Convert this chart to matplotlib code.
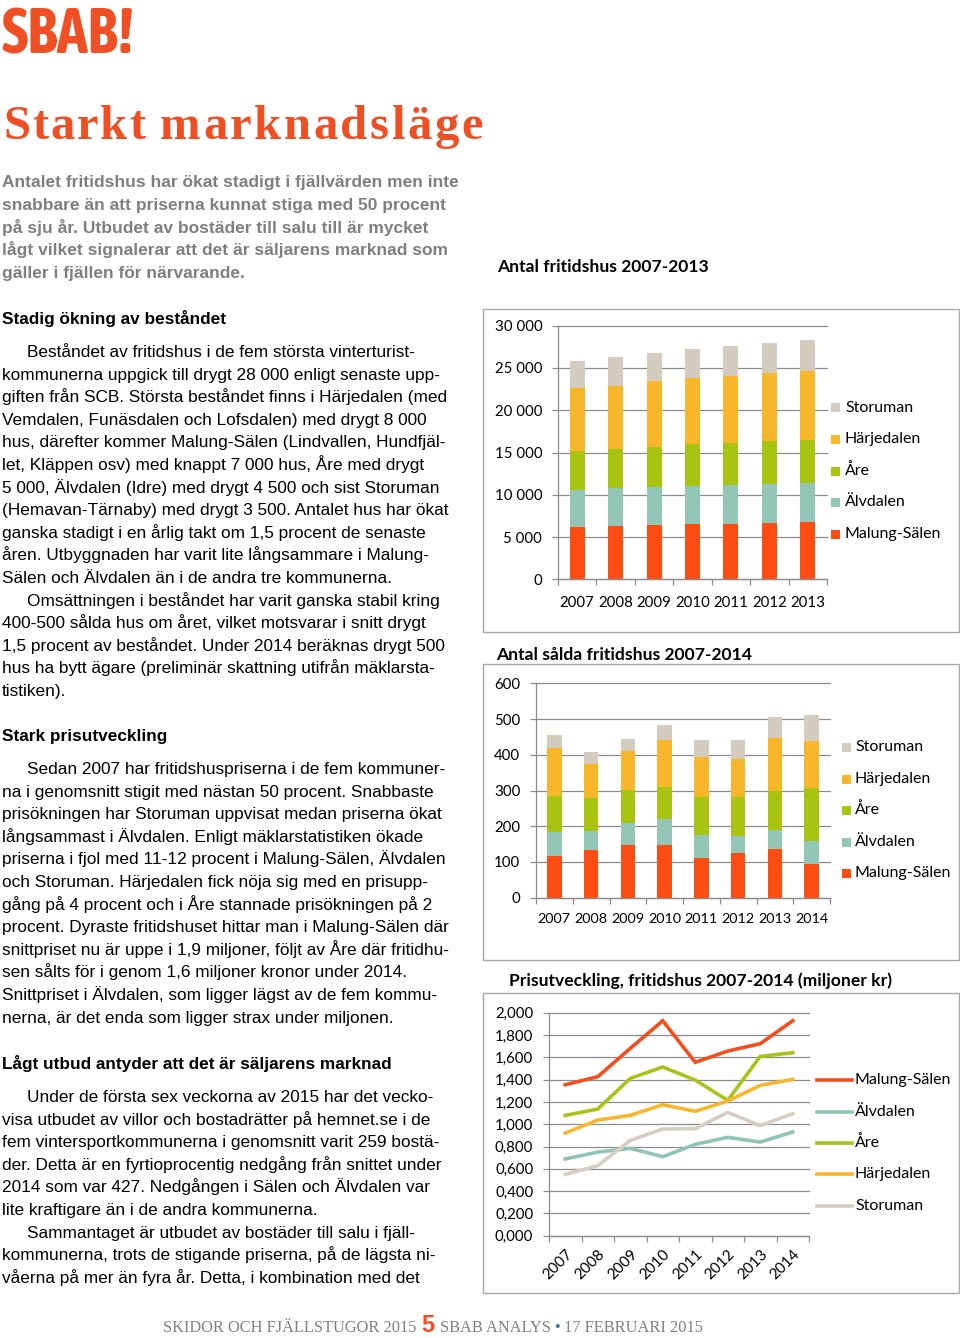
import matplotlib
matplotlib.use('Agg')
import matplotlib.pyplot as plt
from matplotlib.patches import Rectangle
from matplotlib.lines import Line2D
from matplotlib import font_manager
from matplotlib.ft2font import FT2Font
import numpy as np

# ---------------- data ----------------
series_names = ['Malung-Sälen', 'Älvdalen', 'Åre', 'Härjedalen', 'Storuman']

stock_years = ['2007', '2008', '2009', '2010', '2011', '2012', '2013']
stock_malung = [6230, 6350, 6460, 6540, 6580, 6620, 6740]
stock_alvdalen = [4300, 4410, 4500, 4500, 4570, 4610, 4610]
stock_are = [4650, 4650, 4730, 4930, 5010, 5090, 5170]
stock_harjedalen = [7410, 7490, 7770, 7850, 7880, 8040, 8160]
stock_storuman = [3190, 3350, 3350, 3470, 3510, 3590, 3630]

sales_years = ['2007', '2008', '2009', '2010', '2011', '2012', '2013', '2014']
sales_malung = [118, 133, 147, 147, 111, 124, 135, 95]
sales_alvdalen = [67, 55, 63, 73, 65, 50, 55, 64]
sales_are = [99, 91, 91, 90, 106, 107, 109, 148]
sales_harjedalen = [134, 95, 110, 130, 111, 108, 149, 132]
sales_storuman = [38, 33, 32, 42, 47, 51, 57, 71]

price_years = ['2007', '2008', '2009', '2010', '2011', '2012', '2013', '2014']
price_malung = [1.354, 1.426, 1.680, 1.928, 1.555, 1.656, 1.722, 1.928]
price_alvdalen = [0.688, 0.750, 0.783, 0.709, 0.819, 0.882, 0.840, 0.930]
price_are = [1.079, 1.136, 1.411, 1.513, 1.396, 1.214, 1.608, 1.641]
price_harjedalen = [0.921, 1.037, 1.079, 1.175, 1.115, 1.208, 1.348, 1.402]
price_storuman = [0.550, 0.628, 0.855, 0.957, 0.960, 1.106, 0.987, 1.094]

bar_colors = ['#FE4D12', '#93C6B7', '#A8C310', '#F8B62A', '#D4CCBF']
line_colors = ['#F24E1E', '#8FC4B6', '#A8C31A', '#F8B62E', '#D6CEC2']

intro_lines = [
    "Antalet fritidshus har ökat stadigt i fjällvärden men inte",
    "snabbare än att priserna kunnat stiga med 50 procent",
    "på sju år. Utbudet av bostäder till salu till är mycket",
    "lågt vilket signalerar att det är säljarens marknad som",
    "gäller i fjällen för närvarande.",
]
sec1_head = "Stadig ökning av beståndet"
sec1_lines = [
    (1, "Beståndet av fritidshus i de fem största vinterturist-"),
    (0, "kommunerna uppgick till drygt 28 000 enligt senaste upp-"),
    (0, "giften från SCB. Största beståndet finns i Härjedalen (med"),
    (0, "Vemdalen, Funäsdalen och Lofsdalen) med drygt 8 000"),
    (0, "hus, därefter kommer Malung-Sälen (Lindvallen, Hundfjäl-"),
    (0, "let, Kläppen osv) med knappt 7 000 hus, Åre med drygt"),
    (0, "5 000, Älvdalen (Idre) med drygt 4 500 och sist Storuman"),
    (0, "(Hemavan-Tärnaby) med drygt 3 500. Antalet hus har ökat"),
    (0, "ganska stadigt i en årlig takt om 1,5 procent de senaste"),
    (0, "åren. Utbyggnaden har varit lite långsammare i Malung-"),
    (0, "Sälen och Älvdalen än i de andra tre kommunerna."),
    (1, "Omsättningen i beståndet har varit ganska stabil kring"),
    (0, "400-500 sålda hus om året, vilket motsvarar i snitt drygt"),
    (0, "1,5 procent av beståndet. Under 2014 beräknas drygt 500"),
    (0, "hus ha bytt ägare (preliminär skattning utifrån mäklarsta-"),
    (0, "tistiken)."),
]
sec2_head = "Stark prisutveckling"
sec2_lines = [
    (1, "Sedan 2007 har fritidshuspriserna i de fem kommuner-"),
    (0, "na i genomsnitt stigit med nästan 50 procent. Snabbaste"),
    (0, "prisökningen har Storuman uppvisat medan priserna ökat"),
    (0, "långsammast i Älvdalen. Enligt mäklarstatistiken ökade"),
    (0, "priserna i fjol med 11-12 procent i Malung-Sälen, Älvdalen"),
    (0, "och Storuman. Härjedalen fick nöja sig med en prisupp-"),
    (0, "gång på 4 procent och i Åre stannade prisökningen på 2"),
    (0, "procent. Dyraste fritidshuset hittar man i Malung-Sälen där"),
    (0, "snittpriset nu är uppe i 1,9 miljoner, följt av Åre där fritidhu-"),
    (0, "sen sålts för i genom 1,6 miljoner kronor under 2014."),
    (0, "Snittpriset i Älvdalen, som ligger lägst av de fem kommu-"),
    (0, "nerna, är det enda som ligger strax under miljonen."),
]
sec3_head = "Lågt utbud antyder att det är säljarens marknad"
sec3_lines = [
    (1, "Under de första sex veckorna av 2015 har det vecko-"),
    (0, "visa utbudet av villor och bostadrätter på hemnet.se i de"),
    (0, "fem vintersportkommunerna i genomsnitt varit 259 bostä-"),
    (0, "der. Detta är en fyrtioprocentig nedgång från snittet under"),
    (0, "2014 som var 427. Nedgången i Sälen och Älvdalen var"),
    (0, "lite kraftigare än i de andra kommunerna."),
    (1, "Sammantaget är utbudet av bostäder till salu i fjäll-"),
    (0, "kommunerna, trots de stigande priserna, på de lägsta ni-"),
    (0, "våerna på mer än fyra år. Detta, i kombination med det"),
]

# ---------------- figure ----------------
W, H = 960, 1338
DPI = 100
fig = plt.figure(figsize=(W / DPI, H / DPI), dpi=DPI)
fig.patch.set_facecolor('white')

ORANGE = '#F04E23'
GRAY_TXT = '#7F7F7F'
GRID = '#8C8C8C'
BOX = '#A6A6A6'
SANS = ['Liberation Sans', 'DejaVu Sans']
CHART = ['Lato', 'DejaVu Sans']
SERIF = ['Liberation Serif', 'DejaVu Serif']
TICK_FS = 10.8
LEG_FS = 11.5
TITLE_FS = 12.6


def fx(x):
    return x / W


def fy(y):
    return 1 - y / H


def add_ax(x0, y0, x1, y1):
    return fig.add_axes([x0 / W, 1 - y1 / H, (x1 - x0) / W, (y1 - y0) / H])


def box(x0, y0, x1, y1):
    fig.add_artist(Rectangle((fx(x0), fy(y1)), (x1 - x0) / W, (y1 - y0) / H,
                             transform=fig.transFigure, fill=False,
                             ec=BOX, lw=1.0))


renderer = fig.canvas.get_renderer()

# ---------- logo ----------
logo_font = None
for fe in font_manager.fontManager.ttflist:
    nm = fe.name.lower()
    if ('narrow' in nm or 'condensed' in nm) and fe.weight in ('bold', 700, 'heavy', 800):
        logo_font = fe.fname
        break
if logo_font is not None:
    logo = fig.text(fx(1), fy(53), 'SBAB!', fontproperties=font_manager.FontProperties(fname=logo_font),
                    size=45, color=ORANGE, ha='left', va='baseline')
else:
    logo = fig.text(fx(1), fy(53), 'SBAB!', family=SANS, weight='bold',
                    size=45, color=ORANGE, ha='left', va='baseline')
bbl = logo.get_window_extent(renderer)
if bbl.width > 0:
    logo.set_size(45 * min(1.0, 165.0 / bbl.width))


def advances(s, family, weight, size):
    fp = font_manager.FontProperties(family=family, weight=weight)
    f = FT2Font(font_manager.findfont(fp))
    f.set_size(size, DPI)
    out = []
    for ch in s:
        g = f.load_char(ord(ch))
        out.append(g.linearHoriAdvance / 65536.0)
    return out


def tracked_word(x0, x1, ybase, word, family, weight, size, color):
    adv = advances(word, family, weight, size)
    natural = sum(adv)
    track = ((x1 - x0) - natural) / max(len(word) - 1, 1)
    x = x0
    for ch, a in zip(word, adv):
        fig.text(fx(x), fy(ybase), ch, family=family, weight=weight, size=size,
                 color=color, ha='left', va='baseline')
        x += a + track


tracked_word(3, 145, 139, 'Starkt', 'Liberation Serif', 'bold', 35, ORANGE)
tracked_word(160, 483, 139, 'marknadsläge', 'Liberation Serif', 'bold', 35, ORANGE)

# ---------- left column text ----------
BODY = 12.4
LS = 22.6
for i, line in enumerate(intro_lines):
    fig.text(fx(2), fy(181 + i * 22.75 + 6), line, family=SANS, weight='bold',
             size=12.5, color=GRAY_TXT, ha='left', va='baseline')


def section(head, y_head, lines, y0):
    fig.text(fx(2), fy(y_head + 6), head, family=SANS, weight='bold', size=BODY,
             color='black', ha='left', va='baseline')
    for i, (ind, line) in enumerate(lines):
        x = 27 if ind else 2
        fig.text(fx(x), fy(y0 + i * LS + 6), line, family=SANS, size=BODY,
                 color='black', ha='left', va='baseline')


section(sec1_head, 318, sec1_lines, 351)
section(sec2_head, 735, sec2_lines, 768)
section(sec3_head, 1063, sec3_lines, 1096)

# ---------- footer ----------
xcur = 163
yb = 1332
FS_F = 11.8
pieces = [
    ('SKIDOR OCH FJÄLLSTUGOR 2015', SERIF, 'normal', FS_F, GRAY_TXT, 5),
    ('5', SANS, 'bold', 17, ORANGE, 5),
    ('SBAB ANALYS', SERIF, 'normal', FS_F, GRAY_TXT, 4),
    ('•', SERIF, 'normal', FS_F, '#2E75B6', 4),
    ('17 FEBRUARI 2015', SERIF, 'normal', FS_F, GRAY_TXT, 0),
]
for s, fam, wt, sz, col, gap in pieces:
    t = fig.text(fx(xcur), fy(yb), s, family=fam, weight=wt, size=sz, color=col,
                 ha='left', va='baseline')
    bb = t.get_window_extent(renderer)
    xcur += bb.width + gap

# ---------- chart helpers ----------


def style(ax, ncat, yticks, ylabels, xlabels, xpad, xfs):
    ax.set_xlim(-0.5, ncat - 0.5)
    ax.set_ylim(yticks[0], yticks[-1])
    ax.set_yticks(yticks)
    ax.set_yticklabels(ylabels, family=CHART, size=TICK_FS)
    ax.set_xticks(np.arange(-0.5, ncat, 1.0))
    ax.set_xticks(np.arange(ncat), labels=xlabels, minor=True)
    ax.tick_params(axis='x', which='major', length=4.3, width=0.9, color=GRID,
                   direction='out', labelbottom=False)
    ax.tick_params(axis='x', which='minor', length=0, pad=xpad, labelsize=xfs)
    for lab in ax.get_xticklabels(minor=True):
        lab.set_family(CHART)
    ax.tick_params(axis='y', length=4.3, width=0.9, color=GRID, direction='out', pad=7)
    ax.yaxis.grid(True, color=GRID, lw=0.9)
    for gl in ax.get_ygridlines():
        gl.set_clip_on(False)
    ax.set_axisbelow(True)
    for sp in ['top', 'right']:
        ax.spines[sp].set_visible(False)
    for sp in ['left', 'bottom']:
        ax.spines[sp].set_color(GRID)
        ax.spines[sp].set_linewidth(0.9)
    ax.set_facecolor('none')


def square_legend(x_sq, x_txt, ys, names, colors, size):
    for y, n, c in zip(ys, names, colors):
        fig.add_artist(Rectangle((fx(x_sq), fy(y + size / 2)), size / W, size / H,
                                 transform=fig.transFigure, fc=c, ec='none'))
        fig.text(fx(x_txt), fy(y), n, family=CHART, size=LEG_FS, ha='left',
                 va='center', color='black')


def fmt_space(v):
    return f"{int(v):,}".replace(',', ' ')


# ---------- chart 1: stock ----------
box(483, 309, 959, 632)
fig.text(fx(497), fy(267), 'Antal fritidshus 2007-2013', family=CHART, weight='bold',
         size=TITLE_FS, ha='left', va='center')
ax1 = add_ax(558, 325.7, 827, 579.3)
stock = [stock_malung, stock_alvdalen, stock_are, stock_harjedalen, stock_storuman]
x1 = np.arange(len(stock_years))
bottom = np.zeros(len(stock_years))
for vals, c, n in zip(stock, bar_colors, series_names):
    ax1.bar(x1, vals, 0.39, bottom=bottom, color=c, label=n, zorder=2)
    bottom += np.array(vals)
yt1 = np.arange(0, 30001, 5000)
style(ax1, len(stock_years), yt1, [fmt_space(v) for v in yt1], stock_years, 12, 10.8)
square_legend(831, 845, [408, 439.5, 471, 502.5, 534],
              series_names[::-1], bar_colors[::-1], 9)

# ---------- chart 2: sales ----------
box(483, 664, 959, 960)
fig.text(fx(496), fy(655), 'Antal sålda fritidshus 2007-2014', family=CHART, weight='bold',
         size=TITLE_FS, ha='left', va='center')
ax2 = add_ax(536, 683.3, 830, 897.7)
sales = [sales_malung, sales_alvdalen, sales_are, sales_harjedalen, sales_storuman]
x2 = np.arange(len(sales_years))
bottom = np.zeros(len(sales_years))
for vals, c, n in zip(sales, bar_colors, series_names):
    ax2.bar(x2, vals, 0.39, bottom=bottom, color=c, label=n, zorder=2)
    bottom += np.array(vals)
yt2 = np.arange(0, 601, 100)
style(ax2, len(sales_years), yt2, [str(v) for v in yt2], sales_years, 11, 10.4)
square_legend(842, 855, [747, 779, 810, 842, 873],
              series_names[::-1], bar_colors[::-1], 9)

# ---------- chart 3: prices ----------
box(483, 993, 959, 1293)
fig.text(fx(509), fy(981), 'Prisutveckling, fritidshus 2007-2014 (miljoner kr)',
         family=CHART, weight='bold', size=TITLE_FS, ha='left', va='center')
ax3 = add_ax(549, 1012.7, 809, 1235.7)
prices = [price_malung, price_alvdalen, price_are, price_harjedalen, price_storuman]
x3 = np.arange(len(price_years))
for vals, c, n in zip(prices, line_colors, series_names):
    ax3.plot(x3, vals, color=c, lw=2.6, label=n, zorder=3, solid_joinstyle='miter')
yt3 = np.round(np.arange(0, 2.0001, 0.2), 3)
style(ax3, len(price_years), yt3, [f"{v:.3f}".replace('.', ',') for v in yt3],
      price_years, 8, 11)
for lab in ax3.get_xticklabels(minor=True):
    lab.set_rotation(45)
    lab.set_ha('right')
    lab.set_rotation_mode('anchor')
for y, n, c in zip([1080, 1112, 1143, 1174, 1206], series_names, line_colors):
    fig.add_artist(Line2D([fx(817), fx(852)], [fy(y), fy(y)], transform=fig.transFigure,
                          color=c, lw=2.6))
    fig.text(fx(855), fy(y), n, family=CHART, size=LEG_FS, ha='left', va='center')

fig.savefig('out.png', dpi=DPI, facecolor='white')
